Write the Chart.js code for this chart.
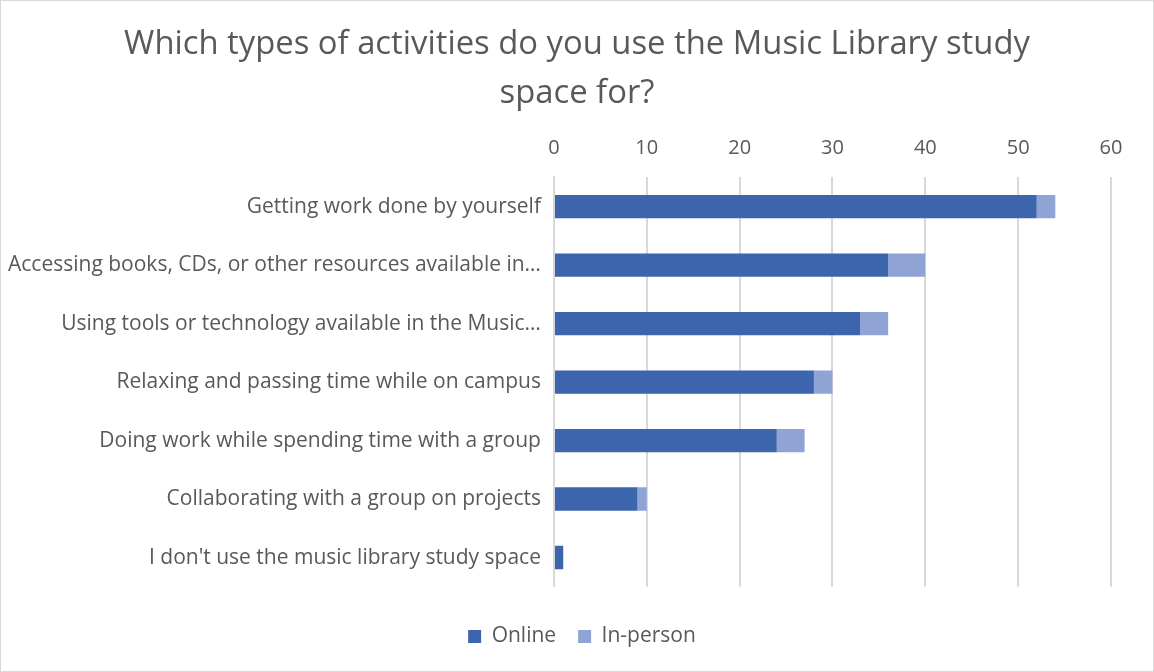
<!DOCTYPE html>
<html>
<head>
<meta charset="utf-8">
<script src="https://cdn.jsdelivr.net/npm/chart.js@4"></script>
<style>
  html, body { margin: 0; padding: 0; background: #fff; }
  #wrap { width: 1152px; height: 670px; border: 1px solid #d9d9d9; position: relative; }
</style>
</head>
<body>
<div id="wrap"><canvas id="myChart" width="1152" height="670"></canvas></div>
<script>
const categories = [
  'Getting work done by yourself',
  'Accessing books, CDs, or other resources available in…',
  'Using tools or technology available in the Music…',
  'Relaxing and passing time while on campus',
  'Doing work while spending time with a group',
  'Collaborating with a group on projects',
  "I don't use the music library study space"
];
const online = [52, 36, 33, 28, 24, 9, 1];
const inPerson = [2, 4, 3, 2, 3, 1, 0];
const xTicks = [0, 10, 20, 30, 40, 50, 60];

const ctx = document.querySelector('#myChart').getContext('2d');
Chart.defaults.font.family = "'Open Sans', 'Liberation Sans', sans-serif";
Chart.defaults.color = '#595959';

// center title and legend on the whole canvas instead of the padded box
const centerBlocks = {
  id: 'centerBlocks',
  afterLayout(chart) {
    chart.legend.left = 10;
    chart.legend.right = chart.width;
    chart.titleBlock.left = 0;
    chart.titleBlock.right = chart.width;
  },
};

new Chart(ctx, {
  type: 'bar',
  data: {
    labels: categories,
    datasets: [
      {
        label: 'Online',
        data: online,
        backgroundColor: '#3c65ad',
        categoryPercentage: 1,
        barPercentage: 0.4,
      },
      {
        label: 'In-person',
        data: inPerson,
        backgroundColor: '#8fa3d5',
        categoryPercentage: 1,
        barPercentage: 0.4,
      },
    ],
  },
  options: {
    indexAxis: 'y',
    responsive: false,
    animation: false,
    layout: { padding: { left: 2, right: 42, top: 10, bottom: 14 } },
    plugins: {
      title: {
        display: true,
        text: ['Which types of activities do you use the Music Library study', 'space for?'],
        font: { size: 32.8, weight: 'normal', lineHeight: 1.5 },
        color: '#595959',
        padding: { top: 9, bottom: 1 },
      },
      legend: {
        position: 'bottom',
        title: { display: true, text: ' ', font: { size: 1 }, padding: { top: 16, bottom: 0 } },
        labels: { boxWidth: 13, boxHeight: 13, font: { size: 21 }, padding: 22 },
      },
      tooltip: { enabled: false },
    },
    scales: {
      x: {
        position: 'top',
        stacked: true,
        min: 0,
        max: 60,
        afterBuildTicks: axis => { axis.ticks = xTicks.map(v => ({ value: v })); },
        ticks: { font: { size: 20 }, padding: 17 },
        grid: { color: '#d9d9d9', lineWidth: 2, drawTicks: false },
        border: { display: false },
      },
      y: {
        stacked: true,
        ticks: { font: { size: 21 }, padding: 5, autoSkip: false },
        grid: { display: false },
        border: { color: '#d9d9d9', width: 2 },
      },
    },
  },
  plugins: [centerBlocks],
});
</script>
</body>
</html>
